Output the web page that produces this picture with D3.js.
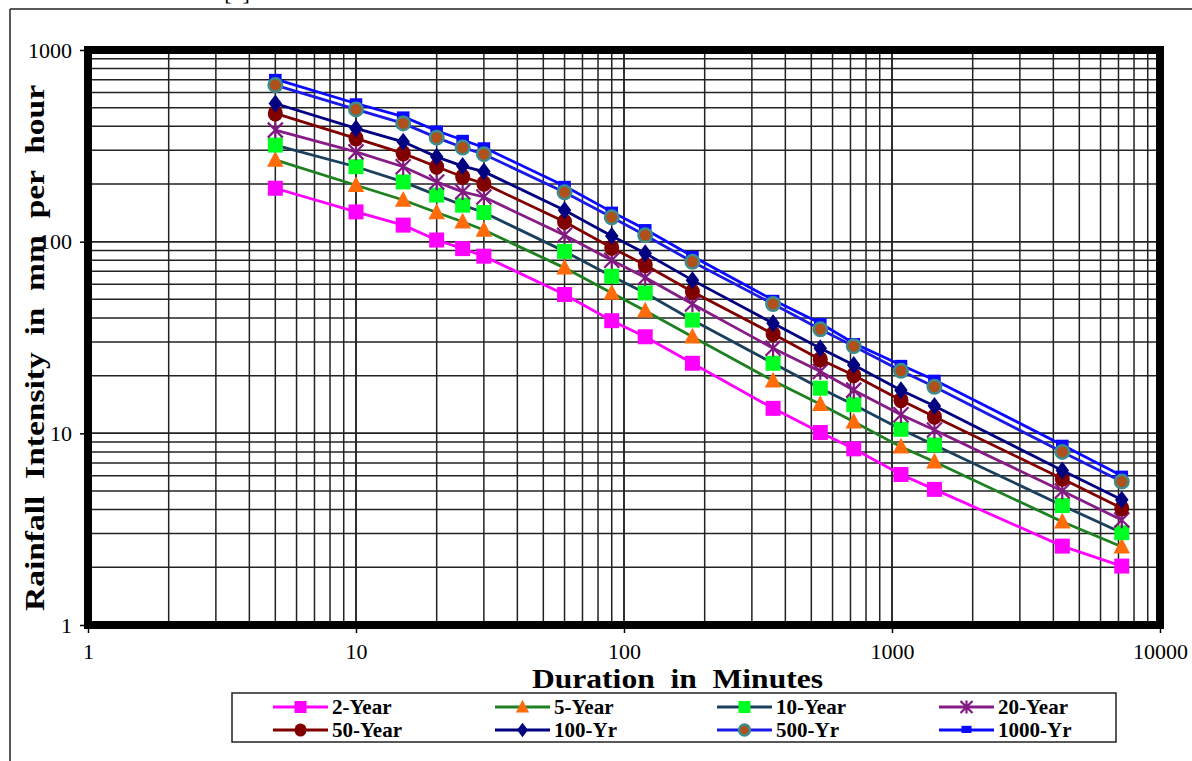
<!DOCTYPE html>
<html>
<head>
<meta charset="utf-8">
<script src="https://cdn.jsdelivr.net/npm/d3@7"></script>
<style>
  html, body { margin: 0; padding: 0; background: #fff; }
  svg { display: block; }
  text { font-family: "Liberation Serif", "Times New Roman", serif; }
</style>
</head>
<body>
<svg id="chart" width="1192" height="761"></svg>
<script>
const durations = [5, 10, 15, 20, 25, 30, 60, 90, 120, 180, 360, 540, 720, 1080, 1440, 4320, 7200];
const seriesNames = ["2-Year", "5-Year", "10-Year", "20-Year", "50-Year", "100-Yr", "500-Yr", "1000-Yr"];
const yr2    = [190, 143, 122, 102, 92, 84, 53, 38.7, 31.9, 23.2, 13.5, 10.1, 8.3, 6.1, 5.1, 2.58, 2.03];
const yr5    = [267, 197, 165, 142, 127, 115, 73, 54, 43.6, 31.9, 18.8, 14.2, 11.5, 8.5, 7.1, 3.46, 2.56];
const yr10   = [319, 246, 205, 175, 155, 142, 89, 66, 54, 39, 23.2, 17.2, 14.1, 10.5, 8.7, 4.2, 3.03];
const yr20   = [382, 294, 246, 205, 182, 171, 108, 80, 65, 47.3, 27.8, 21, 16.8, 12.5, 10.4, 5.0, 3.53];
const yr50   = [467, 346, 289, 246, 218, 201, 127, 93, 75.5, 54.8, 33, 24.3, 20.1, 14.9, 12.2, 5.8, 4.06];
const yr100  = [526, 390, 332, 277, 248, 232, 146, 107, 87, 63, 37.5, 27.8, 22.7, 16.8, 13.9, 6.4, 4.5];
const yr500  = [656, 490, 414, 349, 310, 286, 181, 134, 108, 78.5, 47.3, 34.9, 28.5, 21.2, 17.5, 8.0, 5.6];
const yr1000 = [705, 526, 449, 379, 339, 310, 195, 143, 116, 84, 49.6, 37.5, 29.5, 22.7, 19, 8.7, 6.0];
const xTickLabels = ["1", "10", "100", "1000", "10000"];
const yTickLabels = ["1", "10", "100", "1000"];

const seriesValues = [yr2, yr5, yr10, yr20, yr50, yr100, yr500, yr1000];
const styles = [
  {line: "#FF00FF", marker: "square", fill: "#FF00FF", stroke: "#FF00FF"},
  {line: "#1E8020", marker: "triangle", fill: "#FF6A0A", stroke: "#FF6A0A"},
  {line: "#1C3F5C", marker: "square", fill: "#00FF22", stroke: "#00FF22"},
  {line: "#861C86", marker: "star", fill: "none", stroke: "#801A80"},
  {line: "#800000", marker: "circle", fill: "#800000", stroke: "#800000"},
  {line: "#000080", marker: "diamond", fill: "#000080", stroke: "#000080"},
  {line: "#1A1AE6", marker: "circle2", fill: "#B0501A", stroke: "#3F8C8C"},
  {line: "#0A0AFF", marker: "dash", fill: "#0A0AFF", stroke: "#0A0AFF"}
];

const svg = d3.select("#chart");
const serif = "Liberation Serif";

// outer frame (partially visible)
svg.append("line").attr("x1", 10).attr("y1", 9).attr("x2", 1192).attr("y2", 9).attr("stroke", "#222").attr("stroke-width", 1.5);
svg.append("line").attr("x1", 10).attr("y1", 9).attr("x2", 10).attr("y2", 761).attr("stroke", "#222").attr("stroke-width", 1.5);
svg.append("text").attr("x", 237).attr("y", 0).attr("text-anchor", "middle")
  .style("font-family", serif).style("font-size", "22px").text("[1]");

const x = d3.scaleLog().domain([1, 10000]).range([88, 1160]);
const y = d3.scaleLog().domain([1, 1000]).range([625, 50]);

// gridlines
const xGrid = [];
for (let d = 1; d < 10000; d *= 10) for (let k = 1; k <= 10; k++) xGrid.push(d * k);
const yGrid = [];
for (let d = 1; d < 1000; d *= 10) for (let k = 1; k <= 10; k++) yGrid.push(d * k);
const g = svg.append("g");
g.selectAll(".vg").data(xGrid).enter().append("line")
  .attr("x1", d => x(d)).attr("x2", d => x(d)).attr("y1", y(1000)).attr("y2", y(1))
  .attr("stroke", "#222").attr("stroke-width", 1.5);
g.selectAll(".hg").data(yGrid).enter().append("line")
  .attr("x1", x(1)).attr("x2", x(10000)).attr("y1", d => y(d)).attr("y2", d => y(d))
  .attr("stroke", "#222").attr("stroke-width", 1.5);

// axes ticks
const xAxis = d3.axisBottom(x).tickValues([1, 10, 100, 1000, 10000]).tickSize(8)
  .tickFormat((d, i) => xTickLabels[i]).tickPadding(10);
const yAxis = d3.axisLeft(y).tickValues([1, 10, 100, 1000]).tickSize(8)
  .tickFormat((d, i) => yTickLabels[i]).tickPadding(8);
const gx = svg.append("g").attr("transform", `translate(0,${y(1)})`).call(xAxis);
const gy = svg.append("g").attr("transform", `translate(${x(1)},0)`).call(yAxis);
[gx, gy].forEach(a => {
  a.attr("font-family", null);
  a.select(".domain").remove();
  a.selectAll(".tick line").attr("stroke", "#000").attr("stroke-width", 1.5);
  a.selectAll(".tick text").style("font-family", serif)
    .style("font-size", "22px").attr("fill", "#000");
});

// axis titles
svg.append("text").attr("x", 532).attr("y", 688)
  .style("font-family", serif).style("font-weight", "bold").style("font-size", "28px")
  .attr("textLength", 291).attr("lengthAdjust", "spacingAndGlyphs")
  .style("white-space", "pre")
  .text("Duration  in  Minutes");
svg.append("text").attr("transform", "translate(44,611) rotate(-90)")
  .style("font-family", serif).style("font-weight", "bold").style("font-size", "28px")
  .attr("textLength", 526).attr("lengthAdjust", "spacingAndGlyphs")
  .style("white-space", "pre")
  .text("Rainfall  Intensity  in  mm  per  hour");

// marker drawing
function drawMarker(sel, st, size) {
  const s = size;
  if (st.marker === "square") {
    sel.append("rect").attr("x", -s/2).attr("y", -s/2).attr("width", s).attr("height", s).attr("fill", st.fill);
  } else if (st.marker === "triangle") {
    sel.append("path").attr("d", `M0,${-s*0.6}L${s*0.55},${s*0.45}L${-s*0.55},${s*0.45}Z`).attr("fill", st.fill);
  } else if (st.marker === "star") {
    const r = s * 0.5;
    sel.append("path").attr("d",
      `M${-r},${-r}L${r},${r}M${-r},${r}L${r},${-r}M0,${-r*1.1}L0,${r*1.1}`)
      .attr("stroke", st.stroke).attr("stroke-width", 2.2).attr("fill", "none");
  } else if (st.marker === "circle") {
    sel.append("ellipse").attr("rx", s*0.5).attr("ry", s*0.55).attr("fill", st.fill);
  } else if (st.marker === "diamond") {
    sel.append("path").attr("d", `M0,${-s*0.6}L${s*0.45},0L0,${s*0.6}L${-s*0.45},0Z`).attr("fill", st.fill);
  } else if (st.marker === "circle2") {
    sel.append("circle").attr("r", s*0.45).attr("fill", st.fill).attr("stroke", st.stroke).attr("stroke-width", 2.5);
  } else if (st.marker === "dash") {
    sel.append("rect").attr("x", -s*0.42).attr("y", -s*0.35).attr("width", s*0.84).attr("height", s*0.6).attr("fill", st.fill);
  }
}

// lines and markers
const line = d3.line().x(d => x(d[0])).y(d => y(d[1]));
const dataSets = seriesValues.map(vals => durations.map((d, i) => [d, vals[i]]));
const order = [0, 1, 2, 3, 4, 5, 7, 6];
const plot = svg.append("g");
order.forEach(si => {
  plot.append("path").datum(dataSets[si]).attr("d", line)
    .attr("fill", "none").attr("stroke", styles[si].line).attr("stroke-width", 2.8);
  plot.selectAll(null).data(dataSets[si]).enter().append("g")
    .attr("transform", d => `translate(${x(d[0])},${y(d[1])})`)
    .each(function() { drawMarker(d3.select(this), styles[si], 15); });
});

// thick frame
svg.append("rect").attr("x", x(1)).attr("y", y(1000)).attr("width", x(10000) - x(1)).attr("height", y(1) - y(1000))
  .attr("fill", "none").attr("stroke", "#000").attr("stroke-width", 8);

// legend
svg.append("rect").attr("x", 232).attr("y", 693).attr("width", 884).attr("height", 49)
  .attr("fill", "#fff").attr("stroke", "#222").attr("stroke-width", 1.5);
const colX = [273, 495, 717, 939];
const rowY = [707, 730];
seriesNames.forEach((name, i) => {
  const cx = colX[i % 4], cy = rowY[Math.floor(i / 4)];
  const lg = svg.append("g").attr("transform", `translate(${cx},${cy})`);
  lg.append("line").attr("x1", 0).attr("x2", 55).attr("y1", 0).attr("y2", 0)
    .attr("stroke", styles[i].line).attr("stroke-width", 2.8);
  const mg = lg.append("g").attr("transform", "translate(27.5,0)");
  drawMarker(mg, styles[i], 12);
  lg.append("text").attr("x", 59).attr("y", 7).style("font-family", serif)
    .style("font-weight", "bold").style("font-size", "21px").attr("fill", "#000").text(name);
});
</script>
</body>
</html>
